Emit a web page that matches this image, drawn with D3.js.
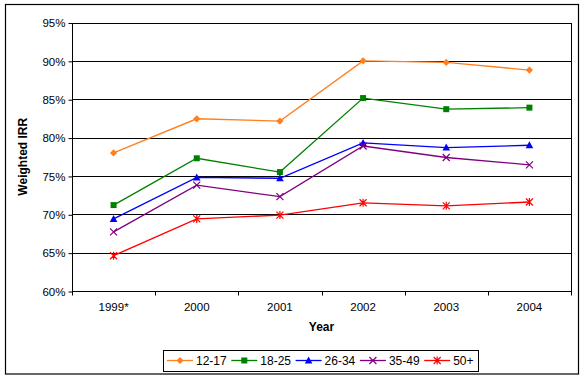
<!DOCTYPE html>
<html>
<head>
<meta charset="utf-8">
<script src="https://d3js.org/d3.v7.min.js"></script>
<style>
  html, body { margin: 0; padding: 0; background: #fff; }
  svg { display: block; font-family: "Liberation Sans", Arial, sans-serif; }
</style>
</head>
<body>
<div id="chart"></div>
<script>
// chart data
var years = ["1999*", "2000", "2001", "2002", "2003", "2004"];
var seriesNames = ["12-17", "18-25", "26-34", "35-49", "50+"];
var v1217 = [78.0, 82.45, 82.15, 90.0, 89.8, 88.8];
var v1825 = [71.2, 77.3, 75.5, 85.15, 83.7, 83.9];
var v2634 = [69.4, 74.8, 74.7, 79.3, 78.7, 79.0];
var v3549 = [67.7, 73.8, 72.3, 78.9, 77.4, 76.45];
var v50 = [64.6, 69.4, 69.9, 71.5, 71.1, 71.6];
var yTicks = [60, 65, 70, 75, 80, 85, 90, 95];

var colors = ["#ff7f1e", "#008000", "#0000ff", "#800080", "#ff0000"];
var markers = ["diamond", "square", "triangle", "x", "star"];
var series = [v1217, v1825, v2634, v3549, v50].map(function (vals, i) {
    return { name: seriesNames[i], values: vals, color: colors[i], marker: markers[i] };
});

var width = 585, height = 378;
var plotLeft = 72, plotRight = 571, plotTop = 22.5, plotBottom = 291;

var svg = d3.select("#chart").append("svg")
    .attr("width", width).attr("height", height);

// outer frame
svg.append("rect")
    .attr("x", 5.5).attr("y", 4.5)
    .attr("width", 573).attr("height", 369.5)
    .attr("fill", "#fff").attr("stroke", "#000").attr("stroke-width", 1.2);

var x = d3.scaleBand().domain(years).range([plotLeft, plotRight]);
var y = d3.scaleLinear().domain([60, 95]).range([plotBottom, plotTop]);

// gridlines
svg.append("g").selectAll("line")
    .data(yTicks.slice(1))
    .enter().append("line")
    .attr("x1", plotLeft).attr("x2", plotRight)
    .attr("y1", function (d) { return Math.round(y(d)) + 0.5; })
    .attr("y2", function (d) { return Math.round(y(d)) + 0.5; })
    .attr("stroke", "#000").attr("stroke-width", 1);

// right border of plot
svg.append("line")
    .attr("x1", plotRight + 0.5).attr("x2", plotRight + 0.5)
    .attr("y1", Math.round(plotTop)).attr("y2", plotBottom)
    .attr("stroke", "#000");

// y axis
var yAxis = svg.append("g")
    .attr("transform", "translate(" + (plotLeft + 0.5) + ",0.5)")
    .call(d3.axisLeft(y).tickValues(yTicks).tickSize(4).tickPadding(3)
        .tickFormat(function (d) { return d + "%"; }));
yAxis.select(".domain").attr("d", "M0," + Math.round(plotTop) + "V" + Math.round(plotBottom));
yAxis.selectAll("text").attr("font-size", 11.5).attr("font-family", "Liberation Sans, Arial, sans-serif").attr("fill", "#000");

// x axis
var xAxis = svg.append("g")
    .attr("transform", "translate(0," + (Math.round(plotBottom) + 0.5) + ")")
    .call(d3.axisBottom(x).tickSize(0).tickPadding(11));
xAxis.select(".domain").attr("d", "M" + plotLeft + ",0H" + (plotRight + 1));
xAxis.selectAll("text").attr("font-size", 11.5).attr("font-family", "Liberation Sans, Arial, sans-serif").attr("fill", "#000");
xAxis.selectAll(".xtick")
    .data(d3.range(years.length + 1))
    .enter().append("line")
    .attr("x1", function (d) { return Math.round(plotLeft + d * x.step()) + 0.5; })
    .attr("x2", function (d) { return Math.round(plotLeft + d * x.step()) + 0.5; })
    .attr("y1", 0).attr("y2", 4)
    .attr("stroke", "#000");

// axis titles
svg.append("text")
    .attr("x", plotLeft + (plotRight - plotLeft) / 2).attr("y", 331)
    .attr("text-anchor", "middle")
    .attr("font-size", 12).attr("font-weight", "bold")
    .text("Year");
svg.append("text")
    .attr("transform", "translate(27," + ((plotTop + plotBottom) / 2) + ") rotate(-90)")
    .attr("text-anchor", "middle")
    .attr("font-size", 12).attr("font-weight", "bold")
    .text("Weighted IRR");

function drawMarker(g, type, color) {
    if (type === "diamond") {
        g.append("path").attr("d", "M0,-3.6L3.6,0L0,3.6L-3.6,0Z").attr("fill", color);
    } else if (type === "square") {
        g.append("rect").attr("x", -3).attr("y", -3).attr("width", 6).attr("height", 6).attr("fill", color);
    } else if (type === "triangle") {
        g.append("path").attr("d", "M0,-4L3.8,3L-3.8,3Z").attr("fill", color);
    } else if (type === "x") {
        g.append("path").attr("d", "M-3.5,-3.5L3.5,3.5M-3.5,3.5L3.5,-3.5").attr("stroke", color).attr("stroke-width", 1.2);
    } else {
        g.append("path").attr("d", "M-3.5,-3.5L3.5,3.5M-3.5,3.5L3.5,-3.5M0,-4V4").attr("stroke", color).attr("stroke-width", 1.2);
    }
}

var line = d3.line()
    .x(function (d, i) { return x(years[i]) + x.bandwidth() / 2; })
    .y(function (d) { return y(d); });

var sg = svg.append("g").selectAll("g")
    .data(series)
    .enter().append("g");

sg.append("path")
    .attr("d", function (s) { return line(s.values); })
    .attr("fill", "none")
    .attr("stroke", function (s) { return s.color; })
    .attr("stroke-width", 1.3);

sg.each(function (s) {
    var g = d3.select(this);
    s.values.forEach(function (v, i) {
        var m = g.append("g")
            .attr("transform", "translate(" + (x(years[i]) + x.bandwidth() / 2) + "," + y(v) + ")");
        drawMarker(m, s.marker, s.color);
    });
});

// legend
var legend = svg.append("g");
legend.append("rect")
    .attr("x", 163.5).attr("y", 350.5)
    .attr("width", 315).attr("height", 21)
    .attr("fill", "#fff").attr("stroke", "#000");

var item = legend.selectAll(".item")
    .data(series)
    .enter().append("g")
    .attr("transform", function (d, i) { return "translate(" + (167 + i * 64.3) + ",360.5)"; });

item.append("line")
    .attr("x1", 0).attr("x2", 26)
    .attr("stroke", function (d) { return d.color; })
    .attr("stroke-width", 1.3);
item.each(function (d) {
    var m = d3.select(this).append("g").attr("transform", "translate(13,0)");
    drawMarker(m, d.marker, d.color);
});
item.append("text")
    .attr("x", 29).attr("dy", "0.35em")
    .attr("font-size", 12)
    .text(function (d) { return d.name; });
</script>
</body>
</html>
